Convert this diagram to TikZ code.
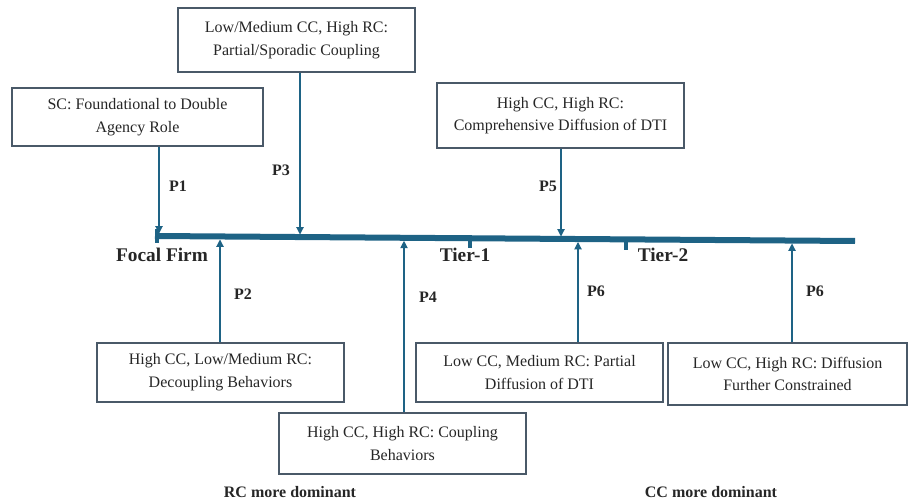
\documentclass[tikz,border=0pt]{standalone}
\usepackage{fontspec}
\setmainfont{Liberation Serif}
\usetikzlibrary{arrows.meta}
\definecolor{linec}{HTML}{1E6385}
\definecolor{boxc}{HTML}{4A5968}
\tikzset{
  box/.style={draw=boxc, line width=0.9pt, align=center, inner sep=2pt,
    font=\fontsize{12}{17}\selectfont, text=black!85},
  conn/.style={draw=linec, line width=0.8pt, -{Triangle[length=5.5pt,width=5.5pt]}},
  plabel/.style={font=\fontsize{12}{14}\selectfont\bfseries, text=black!85},
  axlabel/.style={font=\fontsize{14.5}{16}\selectfont\bfseries, text=black!85},
  tick/.style={draw=linec, line width=3pt}
}
\begin{document}
\begin{tikzpicture}[x=0.75pt,y=-0.75pt]
\useasboundingbox (0,0) rectangle (909,502);
% main line
\coordinate (L0) at (155,236);
\coordinate (L1) at (855,241);
\draw[linec, line width=4.5pt] (L0) -- (L1);
\draw[tick] (157,229) -- (157,243);
\draw[tick] (470,235) -- (470,248);
\draw[tick] (626,237) -- (626,250);
% axis points
\coordinate (d1) at (159,233.5);
\coordinate (d3) at (300,234.5);
\coordinate (d5) at (561,236.5);
\coordinate (u2) at (220,239.5);
\coordinate (u4) at (404,240.8);
\coordinate (u6a) at (578,242);
\coordinate (u6b) at (792,243.5);
% boxes
\node[box, minimum width=188.25pt, minimum height=43.5pt] (sc) at (137.5,117) {SC: Foundational to Double\\Agency Role};
\node[box, minimum width=177.75pt, minimum height=48pt] (b3) at (296.5,40) {Low/Medium CC, High RC:\\Partial/Sporadic Coupling};
\node[box, minimum width=185.25pt, minimum height=48.75pt] (b5) at (560.5,115.5) {High CC, High RC:\\Comprehensive Diffusion of DTI};
\node[box, minimum width=185.25pt, minimum height=44.25pt] (b2) at (220.5,372.5) {High CC, Low/Medium RC:\\Decoupling Behaviors};
\node[box, minimum width=185.25pt, minimum height=45.75pt] (b4) at (402.5,443.5) {High CC, High RC: Coupling\\Behaviors};
\node[box, minimum width=185.25pt, minimum height=44.25pt] (b6a) at (539.5,372.5) {Low CC, Medium RC: Partial\\Diffusion of DTI};
\node[box, minimum width=179.25pt, minimum height=46.5pt] (b6b) at (787.5,374) {Low CC, High RC: Diffusion\\Further Constrained};
% connectors
\draw[conn] (sc.south -| d1) -- (d1);
\draw[conn] (b3.south -| d3) -- (d3);
\draw[conn] (b5.south -| d5) -- (d5);
\draw[conn] (b2.north -| u2) -- (u2);
\draw[conn] (b4.north -| u4) -- (u4);
\draw[conn] (b6a.north -| u6a) -- (u6a);
\draw[conn] (b6b.north -| u6b) -- (u6b);
% P labels
\node[plabel] (p1) at (178,186) {P1};
\node[plabel] (p3) at (281,170) {P3};
\node[plabel] (p5) at (548,186) {P5};
\node[plabel] (p2) at (243,294) {P2};
\node[plabel] (p4) at (428,297) {P4};
\node[plabel] (p6a) at (596,291) {P6};
\node[plabel] (p6b) at (815,291) {P6};
% axis labels
\node[axlabel] (ff) at (162,255) {Focal Firm};
\node[axlabel] (t1) at (465,255) {Tier-1};
\node[axlabel] (t2) at (663,255) {Tier-2};
\node[plabel] (rc) at (290,492) {RC more dominant};
\node[plabel] (cc) at (711,492) {CC more dominant};
\end{tikzpicture}
\end{document}
